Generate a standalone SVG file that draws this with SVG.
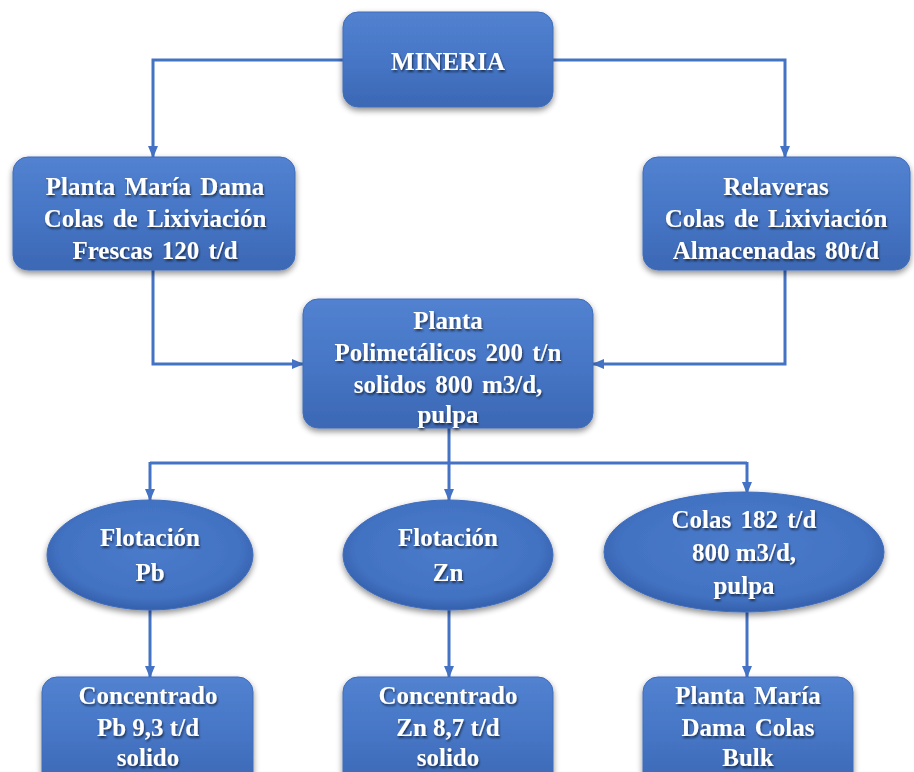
<svg xmlns="http://www.w3.org/2000/svg" width="914" height="772" viewBox="0 0 914 772">
<defs>
<linearGradient id="g" x1="0" y1="0" x2="0" y2="1">
<stop offset="0" stop-color="#5282D0"/>
<stop offset="0.5" stop-color="#4676C6"/>
<stop offset="1" stop-color="#3C68B4"/>
</linearGradient>
<radialGradient id="ge" cx="0.5" cy="0.45" r="0.55">
<stop offset="0" stop-color="#4A7BCB"/>
<stop offset="0.8" stop-color="#4272C2"/>
<stop offset="1" stop-color="#3560AC"/>
</radialGradient>
<filter id="sh" x="-10%" y="-10%" width="120%" height="130%">
<feGaussianBlur in="SourceAlpha" stdDeviation="3"/>
<feOffset dx="0" dy="3" result="b"/>
<feComponentTransfer><feFuncA type="linear" slope="0.45"/></feComponentTransfer>
<feMerge><feMergeNode/><feMergeNode in="SourceGraphic"/></feMerge>
</filter>
<filter id="ts" x="-5%" y="-20%" width="110%" height="140%">
<feGaussianBlur in="SourceAlpha" stdDeviation="0.8"/>
<feOffset dx="1" dy="1.5"/>
<feComponentTransfer><feFuncA type="linear" slope="0.6"/></feComponentTransfer>
<feMerge><feMergeNode/><feMergeNode in="SourceGraphic"/></feMerge>
</filter>
<marker id="ah" markerUnits="userSpaceOnUse" markerWidth="12" markerHeight="12" viewBox="0 0 12 12" refX="11" refY="6" orient="auto">
<path d="M0,1 L12,6 L0,11 z" fill="#4472C4"/>
</marker>
</defs>
<style>
.n{fill:url(#g);stroke:#3F6CBB;stroke-width:1;filter:url(#sh)}
.e{fill:url(#ge);stroke:#3F6CBB;stroke-width:1;filter:url(#sh)}
.t{font-family:"Liberation Serif","Times New Roman",serif;font-weight:bold;font-size:25px;fill:#fff;text-anchor:middle;filter:url(#ts)}
.w{word-spacing:3px}
.c{fill:none;stroke:#4472C4;stroke-width:3;marker-end:url(#ah)}
</style>
<rect width="914" height="772" fill="#fff"/>
<g id="connectors">
<path class="c" d="M343,60 H153 V157"/>
<path class="c" d="M553,60 H785 V157"/>
<path class="c" d="M153,270 V364 H303"/>
<path class="c" d="M785,270 V364 H593"/>
<path fill="none" stroke="#4472C4" stroke-width="3" d="M449,428 V463 M150,463 H747"/>
<path class="c" d="M150,462 V500"/>
<path class="c" d="M449,462 V500"/>
<path class="c" d="M747,462 V493"/>
<path class="c" d="M150,610 V677"/>
<path class="c" d="M449,610 V677"/>
<path class="c" d="M747,612 V677"/>
</g>
<g id="mineria">
<rect class="n" x="343" y="12" width="210" height="95" rx="15"/>
<text class="t" x="448" y="70">MINERIA</text>
</g>
<g id="planta-maria-dama">
<rect class="n" x="13" y="157" width="282" height="113" rx="15"/>
<text class="t w" x="155" y="195">Planta María Dama</text>
<text class="t w" x="155" y="227">Colas de Lixiviación</text>
<text class="t w" x="155" y="259">Frescas 120 t/d</text>
</g>
<g id="relaveras">
<rect class="n" x="643" y="157" width="267" height="113" rx="15"/>
<text class="t" x="776" y="195">Relaveras</text>
<text class="t w" x="776" y="227">Colas de Lixiviación</text>
<text class="t w" x="776" y="259">Almacenadas 80t/d</text>
</g>
<g id="planta-polimetalicos">
<rect class="n" x="303" y="299" width="290" height="129" rx="15"/>
<text class="t" x="448" y="329">Planta</text>
<text class="t w" x="448" y="361">Polimetálicos 200 t/n</text>
<text class="t w" x="448" y="393">solidos 800 m3/d,</text>
<text class="t" x="448" y="423">pulpa</text>
</g>
<g id="flotacion-pb">
<ellipse class="e" cx="150" cy="555" rx="103" ry="55"/>
<text class="t" x="150" y="546">Flotación</text>
<text class="t" x="150" y="581">Pb</text>
</g>
<g id="flotacion-zn">
<ellipse class="e" cx="448" cy="555" rx="105" ry="55"/>
<text class="t" x="448" y="546">Flotación</text>
<text class="t" x="448" y="581">Zn</text>
</g>
<g id="colas">
<ellipse class="e" cx="744" cy="552" rx="140" ry="60"/>
<text class="t w" x="744" y="528">Colas 182 t/d</text>
<text class="t" x="744" y="561">800 m3/d,</text>
<text class="t" x="744" y="594">pulpa</text>
</g>
<g id="concentrado-pb">
<rect class="n" x="42" y="677" width="211" height="110" rx="15"/>
<text class="t" x="148" y="704">Concentrado</text>
<text class="t" x="148" y="736">Pb 9,3 t/d</text>
<text class="t" x="148" y="766">solido</text>
</g>
<g id="concentrado-zn">
<rect class="n" x="343" y="677" width="210" height="110" rx="15"/>
<text class="t" x="448" y="704">Concentrado</text>
<text class="t" x="448" y="736">Zn 8,7 t/d</text>
<text class="t" x="448" y="766">solido</text>
</g>
<g id="planta-colas-bulk">
<rect class="n" x="643" y="677" width="210" height="110" rx="15"/>
<text class="t w" x="748" y="704">Planta María</text>
<text class="t w" x="748" y="736">Dama Colas</text>
<text class="t" x="748" y="766">Bulk</text>
</g>
</svg>
